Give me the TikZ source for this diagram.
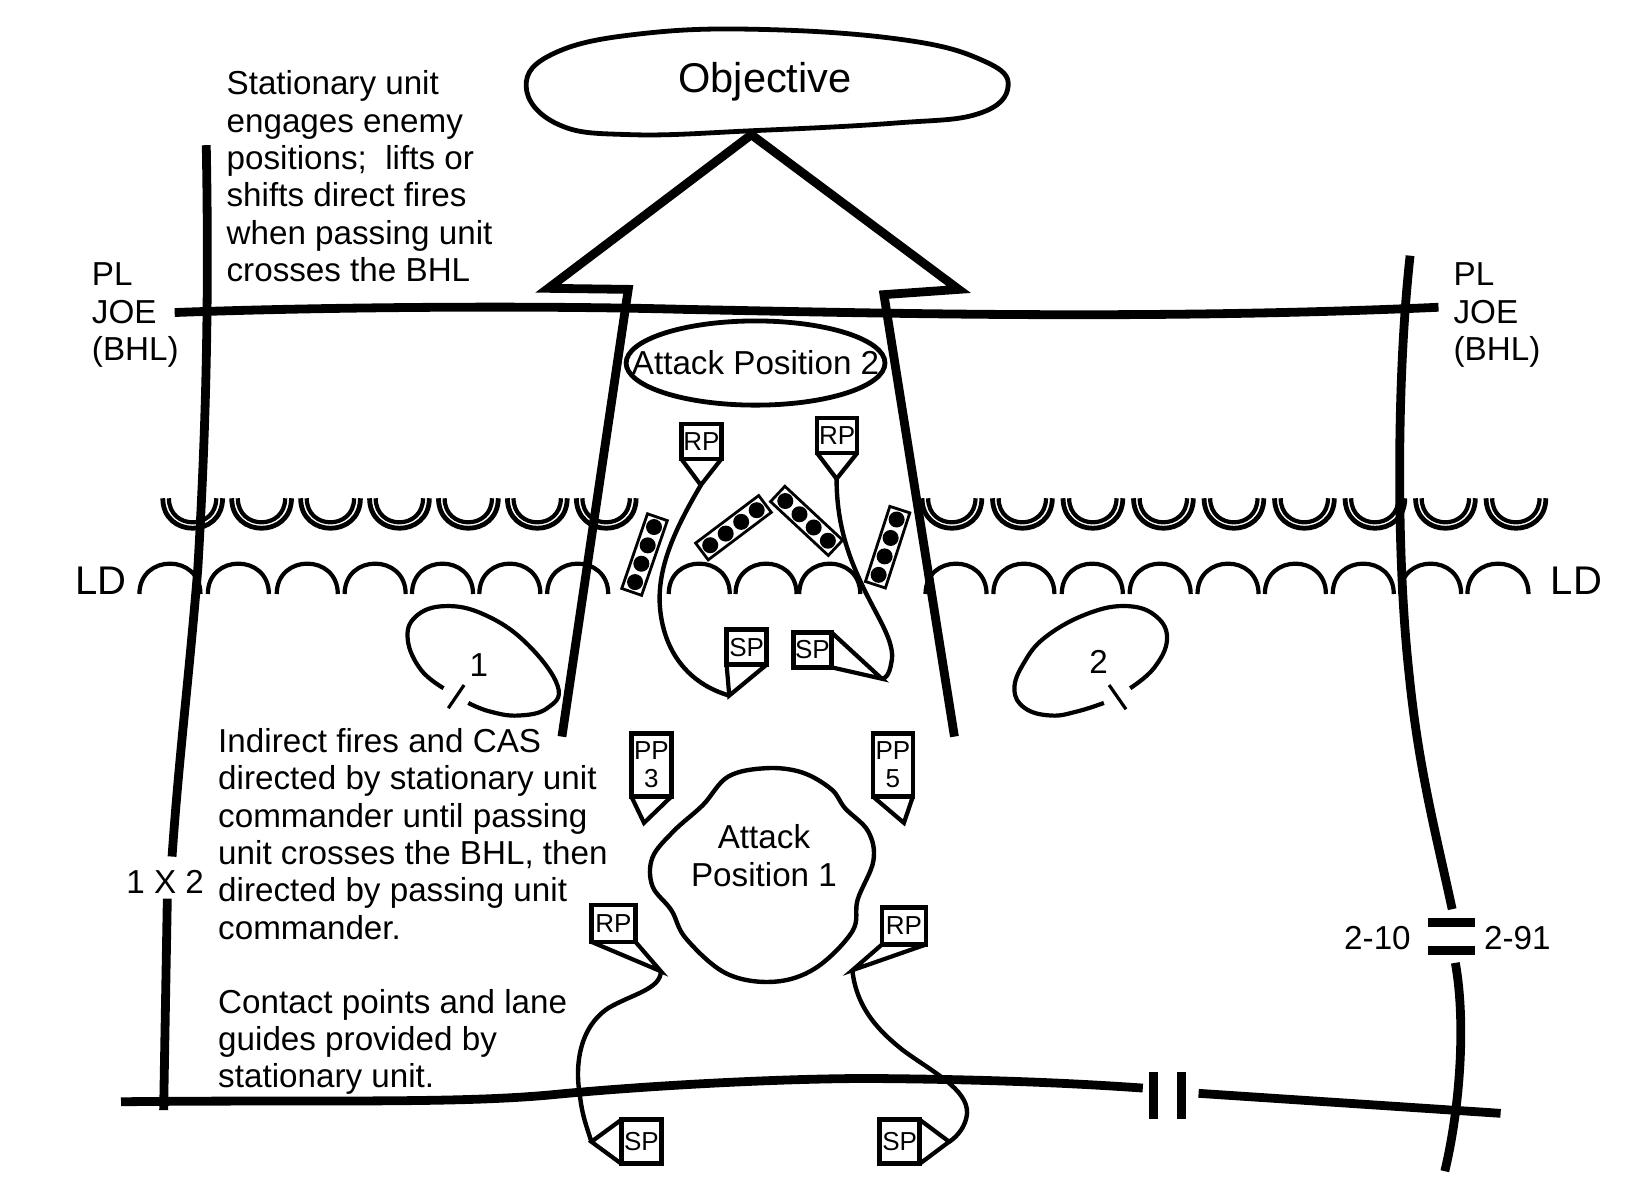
\documentclass[tikz,border=0pt]{standalone}
\usepackage{fontspec}
\setmainfont{Liberation Sans}
\usetikzlibrary{calc}
\tikzset{
  heavy/.style = {line width=4.4pt},
  route/.style = {line width=2.2pt},
  flagbox/.style = {draw, line width=2.3pt, fill=white, inner sep=0pt, outer sep=0pt,
    align=center, font=\fontsize{13}{14}\selectfont},
  flagtip/.style = {line width=2.1pt, miter limit=20},
  notes/.style = {inner sep=0pt, anchor=north west, align=left,
    font=\fontsize{16.6}{18.65}\selectfont},
  label/.style = {inner sep=0pt, font=\fontsize{16.6}{18.65}\selectfont},
  platoon/.style = {draw, line width=1.4pt, fill=white, minimum width=39.5pt,
    minimum height=10.5pt, inner sep=0pt}
}
\begin{document}
\begin{tikzpicture}[x=0.5261pt, y=-0.5261pt]
  \useasboundingbox (0,0) rectangle (1568,1140);

  % obstacle rows, drawn first
  \foreach \x in {152.5,218,283.5,349,414.5,480,545.5, 874,941,1008,1075,1142,1209,1276,1343,1410}
  {
    \draw[line width=2.4pt] (\x+2.2,473.5) .. controls (\x+2.2,511.5) and (\x+59,511.5) .. (\x+59,473.5);
    \draw[line width=2.1pt] (\x+8,473.5) .. controls (\x+8,504) and (\x+53,504) .. (\x+53,473.5);
  }
  \foreach \x in {131,196,261.5,326,390,454,518.5, 634,697.5,758, 878,942.5,1007.5,1072,1136.5,1200.5,1265,1329,1393}
  \draw[line width=2.1pt] (\x+1.5,564.5) .. controls (\x+1.5,526) and (\x+59.5,526) .. (\x+59.5,564.5);

  % phase lines and boundaries
  \draw[heavy] (166,297) .. controls (300,292) and (500,290) .. (650,294)
    .. controls (850,298) and (1100,304) .. (1367,292);
  \draw[heavy] (196,138) .. controls (199,300) and (195,420) .. (188,540)
    .. controls (180,640) and (170,720) .. (163.5,814);
  \draw[heavy] (159,854) -- (155.5,1055);
  \draw[heavy] (1340,243) .. controls (1328,350) and (1326,520) .. (1339,640)
    .. controls (1348,730) and (1364,790) .. (1380,864);
  \draw[heavy] (1383,915) .. controls (1393,970) and (1388,1050) .. (1373,1113);
  \draw[heavy] (1357,877) -- (1402,877);
  \draw[heavy] (1357,903) -- (1402,903);
  \draw[heavy] (115,1047) .. controls (300,1045) and (430,1049) .. (523,1040.5)
    .. controls (620,1031) and (760,1024) .. (840,1025) .. controls (950,1026) and (1030,1030) .. (1086,1034);
  \draw[heavy] (1139,1039) -- (1426,1058);
  \draw[heavy] (1096,1019) -- (1096,1063);
  \draw[heavy] (1123,1019) -- (1123,1063);

  % axis of advance
  \draw[heavy] (534,700) -- (597,275) -- (521,274) -- (714,128) -- (911,275) -- (840,280) -- (907,700);

  % objective and attack positions
  \node[font=\fontsize{20.8}{24}\selectfont, inner sep=0pt] (objective) at (727,78) {Objective};
  \draw[line width=2.4pt] plot[smooth cycle, tension=.7] coordinates {(500,82) (528,50) (610,32)
    (725,28) (860,38) (935,58) (958,82) (930,108) (850,117) (720,124) (600,128) (530,118)};
  \node[font=\fontsize{16.6}{19}\selectfont, inner sep=0pt] (ap2) at (718,345) {Attack Position 2};
  \draw[line width=2.4pt] (ap2.center) ellipse [x radius=123, y radius=40];
  \node[align=center, inner sep=0pt, font=\fontsize{16.6}{18.65}\selectfont] (ap1) at (726,813) {Attack\\Position 1};
  \draw[line width=2.2pt] plot[smooth cycle, tension=.6] coordinates {(728,730) (762,734) (790,750)
    (803,768) (825,790) (830,818) (815,855) (810,885) (775,920) (735,933) (690,925) (652,892)
    (638,865) (620,842) (620,815) (640,790) (668,765) (692,738)};

  % assembly areas
  \node[label] (aa1) at (455,632) {1};
  \draw[line width=2.1pt] plot[smooth, tension=.7] coordinates {(421.5,654) (400,636.5) (387.5,608) (395,586)
    (422.5,576) (460,584) (500,611) (530,652) (520,673) (492.5,680) (465,676) (445,668)};
  \draw[line width=1.6pt] (441,651) -- (426,673);
  \node[label] (aa2) at (1044,629) {2};
  \draw[line width=2.1pt] plot[smooth, tension=.7] coordinates {(1074,654) (1096.5,635) (1109,608) (1099,586)
    (1071.5,576) (1034,583) (994,605) (973,630) (964,655) (974,673) (999,680) (1024,676) (1049,668)};
  \draw[line width=1.6pt] (1054,651) -- (1070,674);

  % vehicles in the lanes
  \foreach \cx/\cy/\ang in {612.5/527/71, 697/501.5/37, 766.5/495/-43, 843.5/520/72}
  {
    \node[platoon, rotate=\ang] at (\cx,\cy) {};
    \foreach \d in {-1.5,-0.5,0.5,1.5}
    \fill ($(\cx,\cy)+(\ang:\d*9.7pt)$) circle (4pt);
  }

  % points
  \node[flagbox, minimum width=20pt, minimum height=17.5pt] (rpa) at (666.5,419.5) {RP};
  \coordinate (rpatip) at (666,461);
  \node[flagbox, minimum width=20pt, minimum height=17.5pt] (rpb) at (795.5,414) {RP};
  \coordinate (rpbtip) at (795,455);
  \node[flagbox, minimum width=20pt, minimum height=17.5pt] (spa) at (709.5,615) {SP};
  \coordinate (spatip) at (693,661);
  \node[flagbox, minimum width=19pt, minimum height=17.5pt] (spb) at (772,617.5) {SP};
  \coordinate (spbtip) at (838,645);
  \node[flagbox, minimum width=20pt, minimum height=31.5pt] (ppa) at (619,727) {PP\\3};
  \coordinate (ppatip) at (612,782);
  \node[flagbox, minimum width=20pt, minimum height=31.5pt] (ppb) at (848.5,727) {PP\\5};
  \coordinate (ppbtip) at (859,782);
  \node[flagbox, minimum width=22pt, minimum height=18.5pt] (rpc) at (583,877.5) {RP};
  \coordinate (rpctip) at (628,923);
  \node[flagbox, minimum width=22pt, minimum height=18.5pt] (rpd) at (859,880) {RP};
  \coordinate (rpdtip) at (810,922);
  \node[flagbox, minimum width=20pt, minimum height=22pt] (spc) at (609.5,1085) {SP};
  \coordinate (spctip) at (562,1085);
  \node[flagbox, minimum width=20pt, minimum height=22pt] (spd) at (855,1085) {SP};
  \coordinate (spdtip) at (902,1085);

  \foreach \p in {rpa,rpb,spa,ppa,ppb}
  \draw[flagtip] (\p.south west) -- (\p tip) -- (\p.south east);
  \draw[flagtip] (spb.north east) -- (spbtip) -- (spb.south east);
  \draw[flagtip] (rpc.south west) -- (rpctip) -- (rpc.south east);
  \draw[flagtip] (rpd.south west) -- (rpdtip) -- (rpd.south east);
  \draw[flagtip] (spc.north west) -- (spctip) -- (spc.south west);
  \draw[flagtip] (spd.north east) -- (spdtip) -- (spd.south east);

  % routes
  \draw[route] (rpatip) .. controls (640,505) and (625,540) .. (627,575)
    .. controls (630,620) and (655,650) .. (spatip);
  \draw[route] (rpbtip) .. controls (795,495) and (805,525) .. (817,551)
    .. controls (832,585) and (852,610) .. (847,630) .. controls (845,642) and (841,645) .. (spbtip);
  \draw[route] (rpctip) .. controls (628,940) and (600,945) .. (578,958)
    .. controls (545,980) and (548,1025) .. (551,1040) .. controls (553,1060) and (558,1072) .. (spctip);
  \draw[route] (rpdtip) .. controls (814,960) and (838,982) .. (858,998)
    .. controls (885,1018) and (920,1035) .. (919,1058) .. controls (918,1070) and (910,1080) .. (spdtip);

  % texts
  \node[notes] (stationary) at (215,67) {Stationary unit\\engages enemy\\positions;\ \ lifts or\\shifts direct fires\\when passing unit\\crosses the BHL};
  \node[notes] (indirect) at (207,692) {Indirect fires and CAS\\directed by stationary unit\\commander until passing\\unit crosses the BHL, then\\directed by passing unit\\commander.\\[18.4pt]Contact points and lane\\guides provided by\\stationary unit.};
  \node[notes] (bhlw) at (87,249.5) {PL\\JOE\\(BHL)};
  \node[notes] (bhle) at (1381,249.5) {PL\\JOE\\(BHL)};
  \node[inner sep=0pt, font=\fontsize{20}{24}\selectfont] (ldw) at (96,552) {LD};
  \node[inner sep=0pt, font=\fontsize{20}{24}\selectfont] (lde) at (1498,552) {LD};
  \node[label] (bdyw) at (157,838) {1 X 2};
  \node[label] (bdyea) at (1309,891) {2-10};
  \node[label] (bdyeb) at (1442,891) {2-91};
\end{tikzpicture}
\end{document}
